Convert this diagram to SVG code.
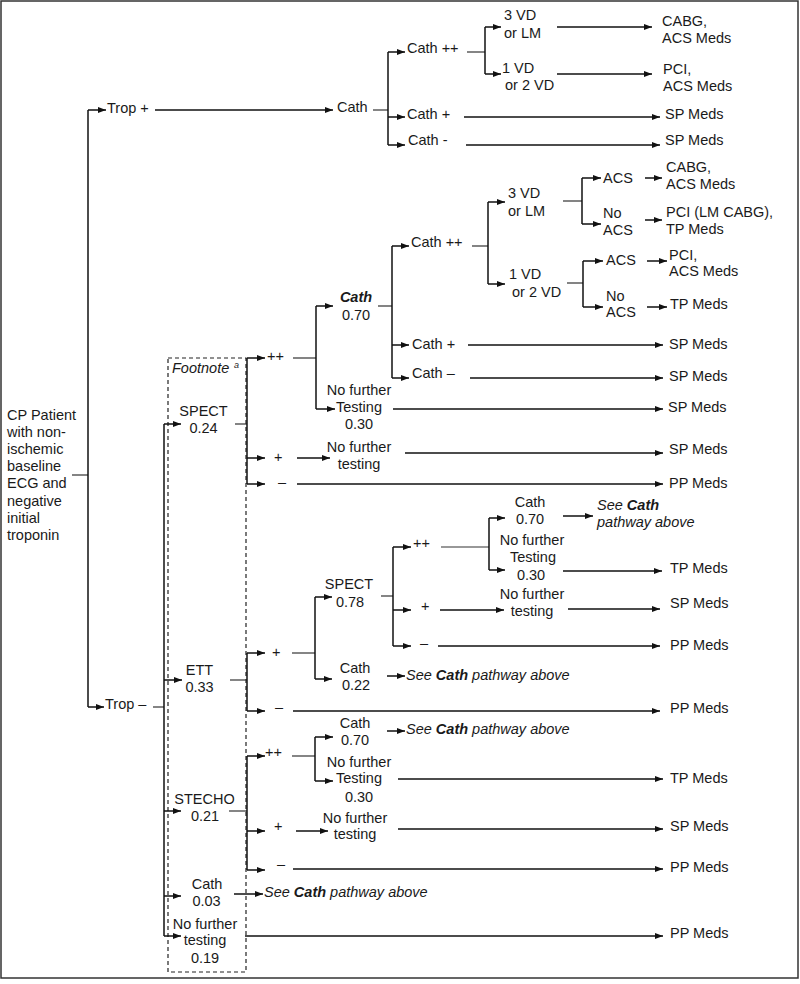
<svg xmlns="http://www.w3.org/2000/svg" width="800" height="984" viewBox="0 0 800 984">
<defs>
<style>
text{font-family:"Liberation Sans",Arial,sans-serif;font-size:14.5px;fill:#1a1a1a}
.m{text-anchor:middle}
.i{font-style:italic}
.b{font-weight:bold}
.sup{font-size:9px;font-style:italic}
.c path{fill:none;stroke:#111;stroke-width:1.5}
.c path.s{stroke:#333;stroke-width:1.2}
.c path.a{marker-end:url(#ah)}
</style>
<marker id="ah" markerUnits="userSpaceOnUse" markerWidth="8" markerHeight="6" refX="8" refY="3" orient="auto">
<path d="M0,0 L8,3 L0,6 z" fill="#111"/>
</marker>
</defs>
<rect x="1" y="1" width="797" height="977" fill="#fff" stroke="#333" stroke-width="1.5"/>
<rect id="footnote-box" x="168" y="358" width="78" height="614" fill="none" stroke="#222" stroke-width="1.2" stroke-dasharray="4,3"/>

<g class="c" id="connectors">
<!-- root -->
<path class="s" d="M72,475 H88"/>
<path d="M88,110 V707"/>
<path class="a" d="M88,110 H106"/>
<path class="a" d="M88,707 H104"/>
<!-- Trop + -->
<path class="a" d="M155,110 H333"/>
<path class="s" d="M373,110 H388"/>
<path d="M388,52 V145"/>
<path class="a" d="M388,52 H405"/>
<path class="a" d="M388,117 H405"/>
<path class="a" d="M388,145 H405"/>
<path class="s" d="M467,52 H485"/>
<path d="M485,27 V74"/>
<path class="a" d="M485,27 H501"/>
<path class="a" d="M485,74 H501"/>
<path class="a" d="M557,27 H652"/>
<path class="a" d="M557,74 H652"/>
<path class="a" d="M464,117 H660"/>
<path class="a" d="M466,145 H660"/>
<!-- Trop - -->
<path class="s" d="M153,707 H164"/>
<path d="M164,424 V936"/>
<path class="a" d="M164,424 H181"/>
<path class="a" d="M164,680 H182"/>
<path class="a" d="M164,811 H181"/>
<path class="a" d="M164,896 H181"/>
<path class="a" d="M164,936 H181"/>
<!-- SPECT 0.24 -->
<path class="s" d="M235,424 H247"/>
<path d="M247,358 V484"/>
<path class="a" d="M247,358 H265"/>
<path class="a" d="M247,458 H265"/>
<path class="a" d="M247,484 H265"/>
<path class="s" d="M293,358 H316"/>
<path d="M316,306 V409"/>
<path class="a" d="M316,306 H333"/>
<path class="a" d="M316,409 H335"/>
<path class="s" d="M378,306 H392"/>
<path d="M392,246 V378"/>
<path class="a" d="M392,246 H409"/>
<path class="a" d="M392,345 H409"/>
<path class="a" d="M392,378 H409"/>
<path class="s" d="M472,246 H488"/>
<path d="M488,202 V284"/>
<path class="a" d="M488,202 H505"/>
<path class="a" d="M488,284 H505"/>
<path class="s" d="M563,201 H582"/>
<path d="M582,178 V224"/>
<path class="a" d="M582,178 H601"/>
<path class="a" d="M582,224 H601"/>
<path class="a" d="M645,178 H662"/>
<path class="a" d="M645,220 H662"/>
<path class="s" d="M567,283 H583"/>
<path d="M583,261 V307"/>
<path class="a" d="M583,261 H603"/>
<path class="a" d="M583,307 H603"/>
<path class="a" d="M647,261 H667"/>
<path class="a" d="M647,307 H667"/>
<path class="a" d="M468,345 H663"/>
<path class="a" d="M470,378 H663"/>
<path class="a" d="M393,409 H663"/>
<path class="a" d="M297,458 H330"/>
<path class="a" d="M405,453 H663"/>
<path class="a" d="M297,484 H663"/>
<!-- ETT -->
<path class="s" d="M230,680 H247"/>
<path d="M247,653 V711"/>
<path class="a" d="M247,653 H265"/>
<path class="a" d="M247,711 H265"/>
<path class="s" d="M292,653 H315"/>
<path d="M315,597 V679"/>
<path class="a" d="M315,597 H332"/>
<path class="a" d="M315,679 H332"/>
<path class="s" d="M381,596 H393"/>
<path d="M393,547 V646"/>
<path class="a" d="M393,547 H411"/>
<path class="a" d="M393,610 H411"/>
<path class="a" d="M393,646 H411"/>
<path class="s" d="M441,547 H489"/>
<path d="M489,518 V570"/>
<path class="a" d="M489,518 H505"/>
<path class="a" d="M489,570 H505"/>
<path class="a" d="M563,516 H593"/>
<path class="a" d="M563,571 H662"/>
<path class="a" d="M440,610 H504"/>
<path class="a" d="M568,609 H660"/>
<path class="a" d="M438,646 H660"/>
<path class="a" d="M387,676 H405"/>
<path class="a" d="M293,711 H660"/>
<!-- STECHO -->
<path class="s" d="M229,811 H247"/>
<path d="M247,756 V870"/>
<path class="a" d="M247,756 H265"/>
<path class="a" d="M247,831 H265"/>
<path class="a" d="M247,870 H265"/>
<path class="s" d="M292,756 H315"/>
<path d="M315,737 V781"/>
<path class="a" d="M315,737 H333"/>
<path class="a" d="M315,781 H333"/>
<path class="a" d="M387,731 H405"/>
<path class="a" d="M398,779 H663"/>
<path class="a" d="M296,831 H328"/>
<path class="a" d="M398,829 H663"/>
<path class="a" d="M293,869 H663"/>
<!-- Cath 0.03, No further testing 0.19 -->
<path class="a" d="M234,894 H263"/>
<path class="a" d="M245,936 H663"/>
</g>

<g id="n-root">
<text x="7" y="420">CP Patient</text>
<text x="7" y="437">with non-</text>
<text x="7" y="454">ischemic</text>
<text x="7" y="471">baseline</text>
<text x="7" y="488">ECG and</text>
<text x="7" y="506">negative</text>
<text x="7" y="523">initial</text>
<text x="7" y="540">troponin</text>
</g>

<!-- Trop + branch -->
<g id="n-trop-pos"><text x="107" y="113">Trop +</text></g>
<g id="n-cath1"><text x="337" y="112">Cath</text></g>
<g id="n-cathpp1"><text x="407" y="53">Cath ++</text></g>
<g id="n-cathp1"><text x="407" y="119">Cath +</text></g>
<g id="n-cathm1"><text x="408" y="145">Cath -</text></g>
<g id="n-3vd1"><text x="504" y="20">3 VD</text><text x="504" y="38">or LM</text></g>
<g id="n-1vd1"><text x="502" y="73">1 VD</text><text x="505" y="90">or 2 VD</text></g>
<g id="n-cabg1"><text x="662" y="26">CABG,</text><text x="662" y="43">ACS Meds</text></g>
<g id="n-pci1"><text x="663" y="74">PCI,</text><text x="663" y="91">ACS Meds</text></g>
<g id="n-sp1a"><text x="665" y="119">SP Meds</text></g>
<g id="n-sp1b"><text x="665" y="145">SP Meds</text></g>

<!-- Trop - branch -->
<g id="n-trop-neg"><text x="105" y="709">Trop –</text></g>
<g id="n-footnote"><text x="172" y="373" class="i">Footnote</text><text x="234" y="368" class="sup">a</text></g>

<!-- SPECT 0.24 -->
<g id="n-spect1"><text class="m" x="203.5" y="416">SPECT</text><text class="m" x="203.5" y="433">0.24</text></g>
<g id="n-spect1-pp"><text x="267" y="361">++</text></g>
<g id="n-spect1-p"><text x="274" y="462">+</text></g>
<g id="n-spect1-m"><text x="278" y="487">–</text></g>
<g id="n-cath2"><text class="m i b" x="356" y="302">Cath</text><text class="m" x="356" y="320">0.70</text></g>
<g id="n-nft1"><text class="m" x="359" y="395">No further</text><text class="m" x="359" y="412">Testing</text><text class="m" x="359" y="429">0.30</text></g>
<g id="n-nft2"><text class="m" x="359" y="452">No further</text><text class="m" x="359" y="469">testing</text></g>
<g id="n-cathpp2"><text x="411" y="247">Cath ++</text></g>
<g id="n-cathp2"><text x="412" y="349">Cath +</text></g>
<g id="n-cathm2"><text x="412" y="378">Cath –</text></g>
<g id="n-3vd2"><text x="508" y="198">3 VD</text><text x="508" y="216">or LM</text></g>
<g id="n-1vd2"><text x="509" y="279">1 VD</text><text x="512" y="297">or 2 VD</text></g>
<g id="n-acs2a"><text x="603" y="183">ACS</text></g>
<g id="n-noacs2a"><text x="603" y="218">No</text><text x="603" y="235">ACS</text></g>
<g id="n-cabg2"><text x="666" y="172">CABG,</text><text x="666" y="189">ACS Meds</text></g>
<g id="n-pcilm"><text x="666" y="217">PCI (LM CABG),</text><text x="666" y="234">TP Meds</text></g>
<g id="n-acs2b"><text x="606" y="265">ACS</text></g>
<g id="n-noacs2b"><text x="606" y="301">No</text><text x="606" y="317">ACS</text></g>
<g id="n-pci2"><text x="669" y="260">PCI,</text><text x="669" y="276">ACS Meds</text></g>
<g id="n-tp2"><text x="670" y="309">TP Meds</text></g>
<g id="n-sp2a"><text x="669" y="349">SP Meds</text></g>
<g id="n-sp2b"><text x="669" y="381">SP Meds</text></g>
<g id="n-sp2c"><text x="668" y="412">SP Meds</text></g>
<g id="n-sp2d"><text x="669" y="454">SP Meds</text></g>
<g id="n-pp2"><text x="669" y="488">PP Meds</text></g>

<!-- ETT 0.33 -->
<g id="n-ett"><text class="m" x="199.5" y="675">ETT</text><text class="m" x="199.5" y="692">0.33</text></g>
<g id="n-ett-p"><text x="272" y="657">+</text></g>
<g id="n-ett-m"><text x="275" y="712">–</text></g>
<g id="n-spect2"><text class="m" x="349" y="589">SPECT</text><text class="m" x="350" y="607">0.78</text></g>
<g id="n-cath022"><text class="m" x="355" y="673">Cath</text><text class="m" x="356" y="690">0.22</text></g>
<g id="n-see1"><text class="i" x="406" y="680">See <tspan class="b">Cath</tspan> pathway above</text></g>
<g id="n-spect2-pp"><text x="413" y="548">++</text></g>
<g id="n-spect2-p"><text x="421" y="611">+</text></g>
<g id="n-spect2-m"><text x="420" y="648">–</text></g>
<g id="n-cath3"><text class="m" x="530" y="507">Cath</text><text class="m" x="530" y="524">0.70</text></g>
<g id="n-nft3"><text class="m" x="532" y="545">No further</text><text class="m" x="533" y="562">Testing</text><text class="m" x="531" y="580">0.30</text></g>
<g id="n-nft4"><text class="m" x="532" y="599">No further</text><text class="m" x="532" y="616">testing</text></g>
<g id="n-see2"><text class="i" x="597" y="510">See <tspan class="b">Cath</tspan></text><text class="i" x="597" y="527">pathway above</text></g>
<g id="n-tp3"><text x="670" y="573">TP Meds</text></g>
<g id="n-sp3"><text x="670" y="608">SP Meds</text></g>
<g id="n-pp3"><text x="670" y="650">PP Meds</text></g>
<g id="n-pp4"><text x="670" y="713">PP Meds</text></g>

<!-- STECHO 0.21 -->
<g id="n-stecho"><text class="m" x="204.5" y="804">STECHO</text><text class="m" x="205" y="821">0.21</text></g>
<g id="n-stecho-pp"><text x="265" y="757">++</text></g>
<g id="n-stecho-p"><text x="274" y="831">+</text></g>
<g id="n-stecho-m"><text x="277" y="869">–</text></g>
<g id="n-cath4"><text class="m" x="355" y="728">Cath</text><text class="m" x="355" y="745">0.70</text></g>
<g id="n-see3"><text class="i" x="406" y="734">See <tspan class="b">Cath</tspan> pathway above</text></g>
<g id="n-nft5"><text class="m" x="359" y="767">No further</text><text class="m" x="359" y="783">Testing</text><text class="m" x="359" y="802">0.30</text></g>
<g id="n-nft6"><text class="m" x="355" y="823">No further</text><text class="m" x="355" y="839">testing</text></g>
<g id="n-tp5"><text x="670" y="783">TP Meds</text></g>
<g id="n-sp5"><text x="670" y="831">SP Meds</text></g>
<g id="n-pp5"><text x="670" y="872">PP Meds</text></g>

<!-- Cath 0.03 / No further testing 0.19 -->
<g id="n-cath003"><text class="m" x="207" y="889">Cath</text><text class="m" x="206.5" y="906">0.03</text></g>
<g id="n-see4"><text class="i" x="264" y="897">See <tspan class="b">Cath</tspan> pathway above</text></g>
<g id="n-nft7"><text class="m" x="205" y="929">No further</text><text class="m" x="205" y="945">testing</text><text class="m" x="205" y="963">0.19</text></g>
<g id="n-pp6"><text x="670" y="938">PP Meds</text></g>
</svg>
